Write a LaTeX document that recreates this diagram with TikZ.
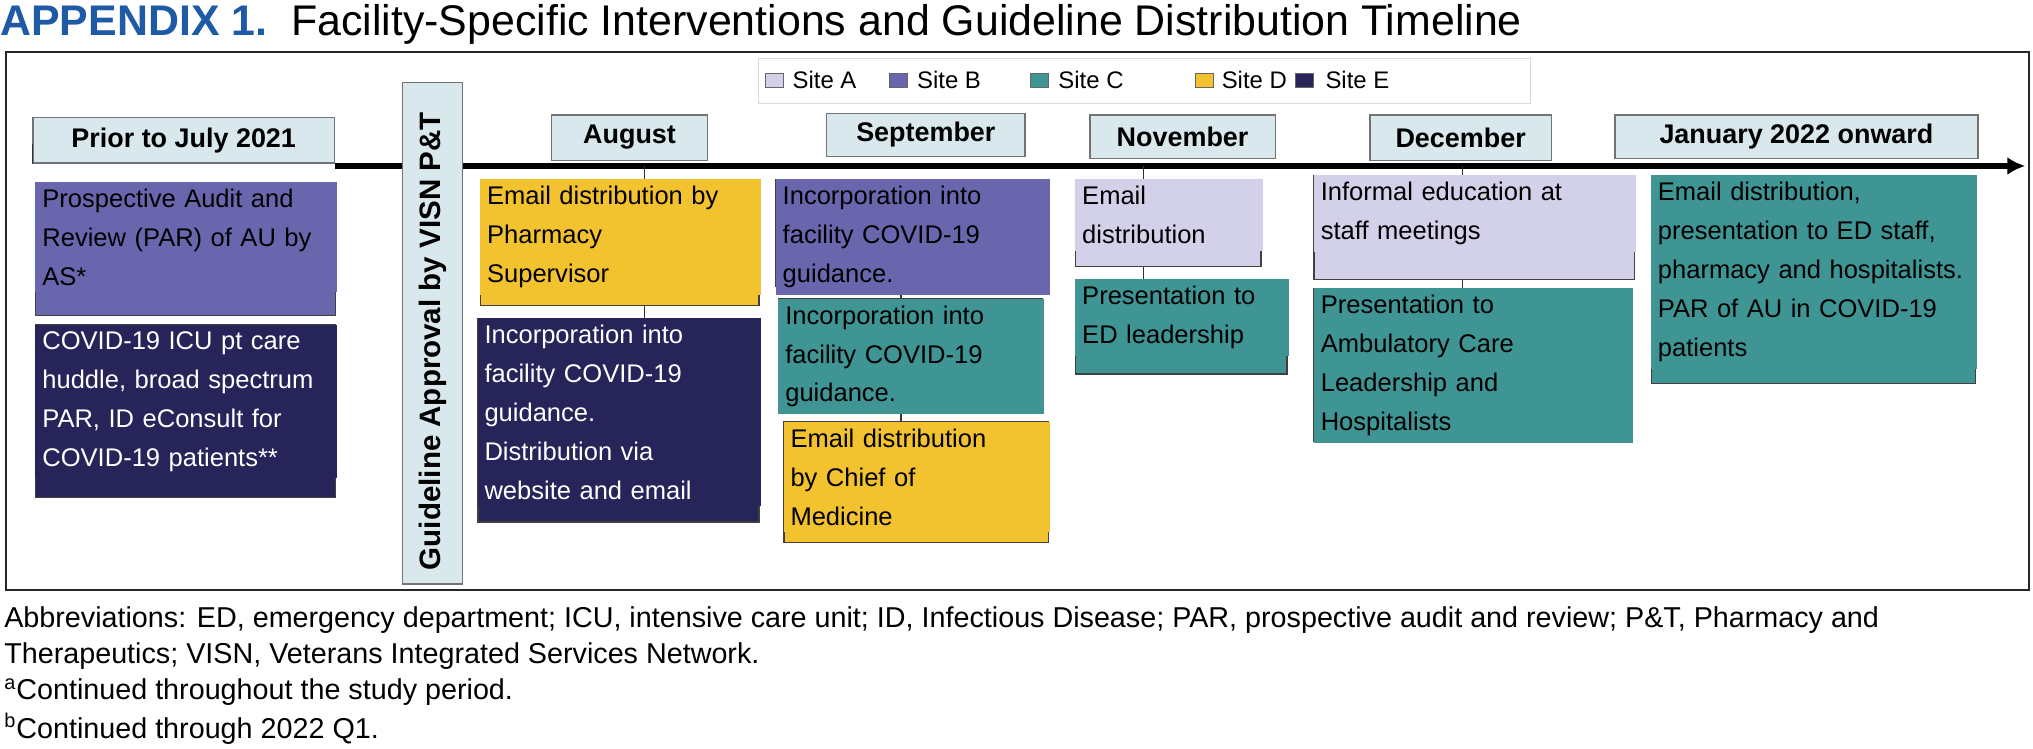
\documentclass[tikz,border=0pt]{standalone}
\usepackage{fontspec}
\usetikzlibrary{arrows.meta}
\setmainfont{Liberation Sans}
\definecolor{cA}{HTML}{D3D1EA}
\definecolor{cB}{HTML}{6A66AE}
\definecolor{cC}{HTML}{3F9494}
\definecolor{cD}{HTML}{F3C22F}
\definecolor{cE}{HTML}{27245A}
\definecolor{mon}{HTML}{D8E8EC}
\definecolor{ttl}{HTML}{1F5AA6}
\newcommand\bx[7]{%
  \pgfmathsetmacro\bw{(#4-#2)*0.65}\pgfmathsetmacro\bh{(#5-#3)*0.65}\pgfmathsetmacro\tw{(#4-#2)*0.65-6}%
  \node[bx,#6,anchor=north west,minimum width=\bw pt,minimum height=\bh pt] (#1) at (#2,#3) {};
  \node[anchor=north west,text width=\tw pt,inner sep=3.5pt,align=left,font=\fontsize{12.8}{19.5}\selectfont,#6] (#1t) at (#2,#3) {#7};}
\begin{document}
\begin{tikzpicture}[x=0.65pt,y=-0.65pt,
  bx/.style={draw=black!75,line width=0.7pt,inner sep=0pt},
  mbox/.style={draw=black!55,fill=mon,line width=0.7pt,anchor=north west,font=\bfseries\fontsize{13.5}{16}\selectfont,inner sep=0pt},
  ln/.style={line width=0.8pt,black!80},
  sq/.style={draw=black!60,line width=0.4pt,minimum width=9pt,minimum height=7pt,inner sep=0pt}]
\useasboundingbox (0,0) rectangle (1568,577);
\node[anchor=west,inner sep=0pt,font=\fontsize{21.5}{24}\selectfont] (title) at (0,19) {\textcolor{ttl}{\bfseries APPENDIX 1.}\ \ Facility-Specific Interventions and Guideline Distribution Timeline};
\draw[line width=1pt,black!85] (5,40) rectangle (1565,455);
% legend
\draw[draw=black!15,fill=white] (585,45) rectangle (1180,80);
\begin{scope}[font=\fontsize{12}{14}\selectfont]
\node[sq,fill=cA] (la) at (597,62) {}; \node[anchor=west,inner sep=0pt] (lat) at (611,62) {Site A};
\node[sq,fill=cB] (lb) at (693,62) {}; \node[anchor=west,inner sep=0pt] (lbt) at (707,62) {Site B};
\node[sq,fill=cC] (lc) at (802,62) {}; \node[anchor=west,inner sep=0pt] (lct) at (816,62) {Site C};
\node[sq,fill=cD] (ld) at (929,62) {}; \node[anchor=west,inner sep=0pt] (ldt) at (942,62) {Site D};
\node[sq,fill=cE] (le) at (1006,62) {}; \node[anchor=west,inner sep=0pt] (let) at (1022,62) {Site E};
\end{scope}
% timeline
\coordinate (ts) at (258,128); \coordinate (te) at (1562,128);
\draw[line width=3pt,-{Latex[length=9pt,width=9pt]}] (ts) -- (te);
% months
\node[mbox,minimum width=151pt,minimum height=22.8pt] (m0) at (25,90) {Prior to July 2021};
\node[mbox,minimum width=78pt,minimum height=22.8pt] (m1) at (425,88) {August};
\node[mbox,minimum width=99.5pt,minimum height=21.5pt] (m2) at (637,87) {September};
\node[mbox,minimum width=93pt,minimum height=22pt] (m3) at (840,88) {November};
\node[mbox,minimum width=91pt,minimum height=22.8pt] (m4) at (1056,88) {December};
\node[mbox,minimum width=182pt,minimum height=22pt] (m5) at (1245,88) {January 2022 onward};
% guideline vertical
\node[mbox,minimum width=29.9pt,minimum height=251.5pt] (gl) at (310,63) {};
\node[rotate=90,font=\bfseries\fontsize{14.8}{16}\selectfont] (glt) at ([yshift=-4pt]gl.center) {Guideline Approval by VISN P\&T};
% connectors
\draw[ln] (m0.south west) -- ++(0,-15);
\coordinate (aX) at (497,128);
\draw[ln] (aX) -- (497,245);
\draw[ln] (695,215) -- (695,325);
\draw[ln] (882,128) -- (882,215);
\draw[ln] (1128,128) -- (1128,222);
% boxes
\bx{pB}{27}{140}{258}{243}{fill=cB}{Prospective Audit and\\Review (PAR) of AU by\\AS*}
\bx{pE}{27}{250}{258}{383}{fill=cE,text=white}{COVID-19 ICU pt care\\huddle, broad spectrum\\PAR, ID eConsult for\\COVID-19 patients**}
\bx{aD}{370}{138}{585}{235}{fill=cD}{Email distribution by\\Pharmacy\\Supervisor}
\bx{aE}{368}{245}{585}{402}{fill=cE,text=white}{Incorporation into\\facility COVID-19\\guidance.\\Distribution via\\website and email}
\bx{sB}{598}{138}{808}{220}{fill=cB}{Incorporation into\\facility COVID-19\\guidance.}
\bx{sC}{600}{230}{803}{318}{fill=cC}{Incorporation into\\facility COVID-19\\guidance.}
\bx{sD}{604}{325}{808}{418}{fill=cD}{Email distribution\\by Chief of\\Medicine}
\bx{nA}{829}{138}{972}{205}{fill=cA}{Email\\distribution}
\bx{nC}{829}{215}{992}{288}{fill=cC}{Presentation to\\ED leadership}
\bx{dA}{1013}{135}{1260}{215}{fill=cA}{Informal education at\\staff meetings}
\bx{dC}{1013}{222}{1258}{340}{fill=cC}{Presentation to\\Ambulatory Care\\Leadership and\\Hospitalists}
\bx{jC}{1273}{135}{1523}{295}{fill=cC}{Email distribution,\\presentation to ED staff,\\pharmacy and hospitalists.\\PAR of AU in COVID-19\\patients}
% footer
\begin{scope}[font=\fontsize{14.4}{16}\selectfont]
\node[anchor=west,inner sep=0pt] (f1) at (3,478) {Abbreviations: ED, emergency department; ICU, intensive care unit; ID, Infectious Disease; PAR, prospective audit and review; P\&T, Pharmacy and};
\node[anchor=west,inner sep=0pt] (f2) at (3,506) {Therapeutics; VISN, Veterans Integrated Services Network.};
\node[anchor=west,inner sep=0pt] (f3) at (3,534) {\textsuperscript{a}Continued throughout the study period.};
\node[anchor=west,inner sep=0pt] (f4) at (3,562) {\textsuperscript{b}Continued through 2022 Q1.};
\end{scope}
\end{tikzpicture}
\end{document}
